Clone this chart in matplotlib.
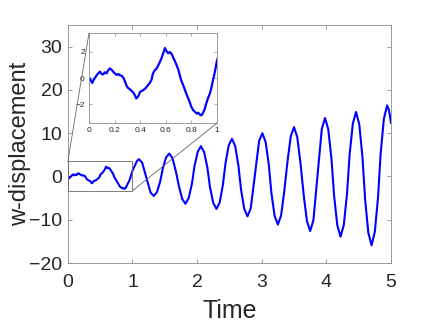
import matplotlib
matplotlib.use("Agg")
import matplotlib.pyplot as plt
from matplotlib.patches import Rectangle, ConnectionPatch

# values
time = [
    0.00, 0.013, 0.026, 0.037, 0.047, 0.066, 0.086, 0.098, 0.11, 0.125, 0.138, 0.15,
    0.164, 0.178, 0.19, 0.203, 0.216, 0.228, 0.24, 0.255, 0.27, 0.283, 0.295, 0.308,
    0.32, 0.333, 0.346, 0.358, 0.37, 0.385, 0.40, 0.42, 0.44, 0.46, 0.477, 0.49,
    0.50, 0.515, 0.53, 0.543, 0.555, 0.568, 0.58, 0.594, 0.607, 0.62, 0.633, 0.646,
    0.66, 0.67, 0.685, 0.70, 0.72, 0.735, 0.75, 0.763, 0.776, 0.79, 0.80, 0.815,
    0.83, 0.842, 0.854, 0.867, 0.88, 0.89, 0.904, 0.917, 0.93, 0.945, 0.958, 0.97,
    0.985, 1.00,
    1.04, 1.07, 1.10, 1.15, 1.19, 1.24, 1.28, 1.33, 1.38, 1.43, 1.47, 1.52,
    1.57, 1.62, 1.67, 1.72, 1.77, 1.82, 1.87, 1.92, 1.96, 2.01, 2.06, 2.11,
    2.16, 2.20, 2.25, 2.30, 2.35, 2.40, 2.44, 2.49, 2.54, 2.59, 2.64, 2.68,
    2.73, 2.78, 2.83, 2.87, 2.92, 2.96, 3.01, 3.06, 3.11, 3.15, 3.20, 3.25,
    3.30, 3.35, 3.40, 3.45, 3.50, 3.55, 3.60, 3.65, 3.70, 3.75, 3.80, 3.84,
    3.89, 3.93, 3.98, 4.03, 4.08, 4.12, 4.17, 4.22, 4.27, 4.32, 4.36, 4.41,
    4.46, 4.51, 4.56, 4.60, 4.65, 4.70, 4.75, 4.80, 4.84, 4.89, 4.94, 4.97,
    5.00,
]
w_disp = [
    0.05, -0.15, -0.38, -0.12, 0.02, 0.3, 0.5, 0.32, 0.28, 0.45, 0.36, 0.6,
    0.74, 0.62, 0.48, 0.35, 0.24, 0.32, 0.22, 0.18, 0.0, -0.3, -0.62, -0.78,
    -0.86, -0.98, -1.1, -1.3, -1.56, -1.4, -1.05, -0.95, -0.8, -0.55, -0.35, -0.1,
    0.35, 0.6, 0.75, 1.0, 1.25, 1.55, 1.9, 2.3, 2.05, 1.9, 2.0, 1.85,
    1.55, 1.35, 1.0, 0.6, -0.15, -0.5, -0.9, -1.25, -1.56, -1.9, -2.2, -2.45,
    -2.6, -2.72, -2.65, -2.8, -2.85, -2.7, -2.4, -1.95, -1.55, -1.2, -0.7, -0.15,
    0.5, 1.3,
    2.6, 3.6, 4.0, 3.2, 1.1, -1.6, -3.7, -4.5, -3.6, -1.1, 1.9, 4.4,
    5.3, 4.2, 1.3, -2.3, -5.2, -6.3, -5.0, -1.7, 2.4, 5.7, 7.0, 5.6,
    2.0, -2.5, -6.1, -7.5, -6.0, -1.9, 3.1, 7.2, 8.7, 7.0, 2.5, -3.0,
    -7.5, -9.2, -7.4, -2.6, 3.4, 8.2, 10.0, 8.0, 2.7, -3.8, -9.1, -11.1,
    -9.0, -3.3, 3.6, 9.3, 11.4, 9.1, 3.1, -4.3, -10.3, -12.6, -10.1, -3.6,
    4.5, 11.0, 13.5, 10.9, 4.0, -4.4, -11.3, -13.9, -11.2, -4.0, 5.0, 12.2,
    14.9, 12.0, 4.3, -5.3, -13.0, -15.9, -12.8, -4.8, 5.2, 13.3, 16.4, 15.3,
    12.4,
]
x_ticks = [0, 1, 2, 3, 4, 5]
y_ticks = [-20, -10, 0, 10, 20, 30]
inset_x_ticks = [0, 0.2, 0.4, 0.6, 0.8, 1]
inset_x_labels = ['0', '0.2', '0.4', '0.6', '0.8', '1']
inset_y_ticks = [-2, 0, 2]

plt.rcParams['font.family'] = ['Liberation Sans', 'DejaVu Sans']
gray = '#8c8c8c'
text_col = '#262626'

fig = plt.figure(figsize=(4.32, 3.24), dpi=100)
ax = fig.add_axes([0.157, 0.188, 0.748, 0.735])
ax.plot(time, w_disp, color='#0000ff', lw=1.5)
ax.set_xlim(0, 5)
ax.set_ylim(-20, 35)
ax.set_xticks(x_ticks)
ax.set_yticks(y_ticks)
ax.tick_params(direction='in', length=3, width=0.6, colors=gray, labelcolor=text_col,
               labelsize=14, top=True, right=True)
ax.tick_params(axis='x', pad=8)
ax.tick_params(axis='y', pad=4)
for s in ax.spines.values():
    s.set_color(gray)
    s.set_linewidth(0.6)
ax.set_xlabel('Time', fontsize=18, color=text_col)
ax.set_ylabel('w-displacement', fontsize=17, color=text_col)
ax.xaxis.set_label_coords(0.5, -0.15)
ax.yaxis.set_label_coords(-0.115, 0.5)

# zoom box on the main axes
ax.add_patch(Rectangle((0, -3.3), 1, 6.8, fill=False, ec='#666666', lw=0.6, zorder=3))

ins = fig.add_axes([0.206, 0.620, 0.296, 0.278])
ins.plot(time, w_disp, color='#0000ff', lw=1.6)
ins.set_xlim(0, 1)
ins.set_ylim(-3.45, 3.45)
ins.set_xticks(inset_x_ticks)
ins.set_xticklabels(inset_x_labels)
ins.set_yticks(inset_y_ticks)
ins.tick_params(direction='in', length=2, width=0.5, colors=gray, labelcolor=text_col,
                labelsize=6, top=True, right=True, pad=3)
for s in ins.spines.values():
    s.set_color(gray)
    s.set_linewidth(0.6)

for pa, pb in [((0, 3.5), (0, 1)), ((1, -3.3), (1, 0))]:
    con = ConnectionPatch(xyA=pa, coordsA=ax.transData, xyB=pb, coordsB=ins.transAxes,
                          color='#666666', lw=0.6)
    fig.add_artist(con)

fig.savefig('out.png', dpi=100)
